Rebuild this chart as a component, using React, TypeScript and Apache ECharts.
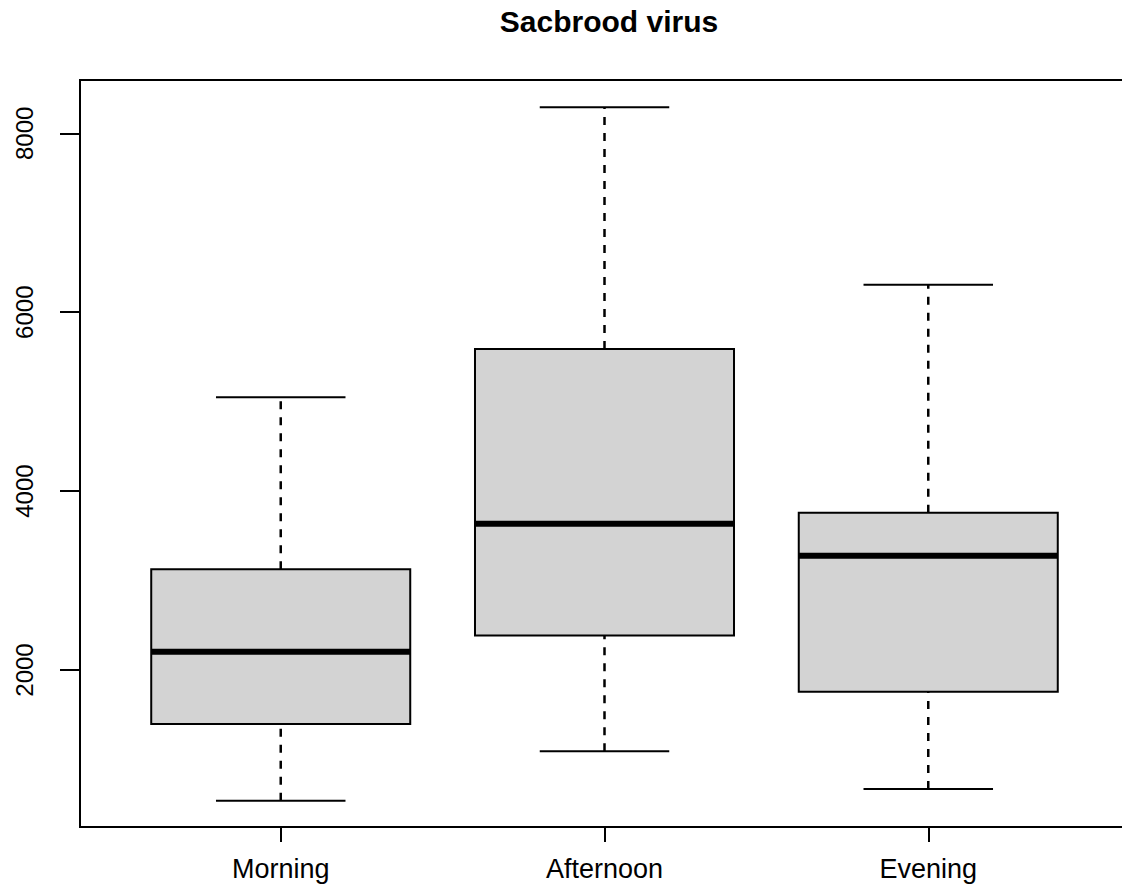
import React, { useEffect, useRef } from "react";
import * as echarts from "echarts";

const categories = ["Morning", "Afternoon", "Evening"];
const whiskerLow = [539, 1091, 671];
const lowerQuartile = [1396, 2386, 1756];
const medianValues = [2205, 3636, 3277];
const upperQuartile = [3126, 5590, 3758];
const whiskerHigh = [5049, 8291, 6307];
const yTickValues = [2000, 4000, 6000, 8000];
const xTickValues = [1, 2, 3];

const FONT = "'Liberation Sans', Arial, sans-serif";

export default function App() {
  const ref = useRef<HTMLDivElement>(null);

  useEffect(() => {
    if (!ref.current) return;
    const chart = echarts.init(ref.current, undefined, { renderer: "svg" });

    const data = categories.map((_, i) => [
      i + 1,
      whiskerLow[i],
      lowerQuartile[i],
      medianValues[i],
      upperQuartile[i],
      whiskerHigh[i],
    ]);

    const option: any = {
      animation: false,
      backgroundColor: "#ffffff",
      title: {
        text: "Sacbrood virus",
        left: 604,
        top: 1,
        textAlign: "center",
        textStyle: {
          fontFamily: FONT,
          fontWeight: "bold",
          fontSize: 30,
          color: "#000",
        },
      },
      grid: {
        left: 80,
        top: 80,
        width: 1049,
        height: 747,
        show: true,
        borderColor: "#000",
        borderWidth: 2,
        backgroundColor: "transparent",
        outerBoundsMode: "none",
        containLabel: false,
      },
      xAxis: {
        type: "value",
        min: 0.38,
        max: 3.62,
        axisLine: { show: false },
        splitLine: { show: false },
        axisTick: {
          show: true,
          length: 15,
          customValues: xTickValues,
          lineStyle: { color: "#000", width: 2 },
        },
        axisLabel: {
          customValues: xTickValues,
          formatter: (v: number) => categories[Math.round(v) - 1] ?? "",
          margin: 28,
          fontFamily: FONT,
          fontSize: 27,
          lineHeight: 28,
          color: "#000",
        },
      },
      yAxis: {
        type: "value",
        min: 245,
        max: 8596,
        axisLine: { show: false },
        splitLine: { show: false },
        axisTick: {
          show: true,
          length: 20,
          customValues: yTickValues,
          lineStyle: { color: "#000", width: 2 },
        },
        axisLabel: {
          customValues: yTickValues,
          formatter: (v: number) => String(v),
          rotate: 90,
          margin: 44,
          fontFamily: FONT,
          fontSize: 24,
          color: "#000",
        },
      },
      series: [
        {
          type: "custom",
          silent: true,
          data,
          encode: { x: 0, y: [1, 2, 3, 4, 5] },
          renderItem: (params: any, api: any) => {
            const x = api.value(0);
            const pLow = api.coord([x, api.value(1)]);
            const pQ1 = api.coord([x, api.value(2)]);
            const pMed = api.coord([x, api.value(3)]);
            const pQ3 = api.coord([x, api.value(4)]);
            const pHigh = api.coord([x, api.value(5)]);
            const boxW = api.size([0.8, 0])[0];
            const capW = boxW / 2;
            const cx = pMed[0];
            const dash = { stroke: "#000", lineWidth: 2.5, lineDash: [8, 8] };
            const solid = { stroke: "#000", lineWidth: 2 };
            return {
              type: "group",
              children: [
                {
                  type: "line",
                  shape: { x1: cx, y1: pQ3[1], x2: cx, y2: pHigh[1] },
                  style: dash,
                },
                {
                  type: "line",
                  shape: { x1: cx, y1: pLow[1], x2: cx, y2: pQ1[1] },
                  style: dash,
                },
                {
                  type: "line",
                  shape: { x1: cx - capW / 2, y1: pHigh[1], x2: cx + capW / 2, y2: pHigh[1] },
                  style: solid,
                },
                {
                  type: "line",
                  shape: { x1: cx - capW / 2, y1: pLow[1], x2: cx + capW / 2, y2: pLow[1] },
                  style: solid,
                },
                {
                  type: "rect",
                  shape: {
                    x: cx - boxW / 2,
                    y: pQ3[1],
                    width: boxW,
                    height: pQ1[1] - pQ3[1],
                  },
                  style: { fill: "#d3d3d3", stroke: "#000", lineWidth: 2 },
                },
                {
                  type: "line",
                  shape: { x1: cx - boxW / 2, y1: pMed[1], x2: cx + boxW / 2, y2: pMed[1] },
                  style: { stroke: "#000", lineWidth: 6 },
                },
              ],
            };
          },
        },
      ],
    };

    chart.setOption(option);
    return () => {
      chart.dispose();
    };
  }, []);

  return (
    <div
      style={{
        position: "fixed",
        left: 0,
        top: 0,
        width: 1122,
        height: 886,
        overflow: "hidden",
        background: "#fff",
      }}
    >
      <div ref={ref} style={{ width: 1140, height: 886 }} />
    </div>
  );
}
